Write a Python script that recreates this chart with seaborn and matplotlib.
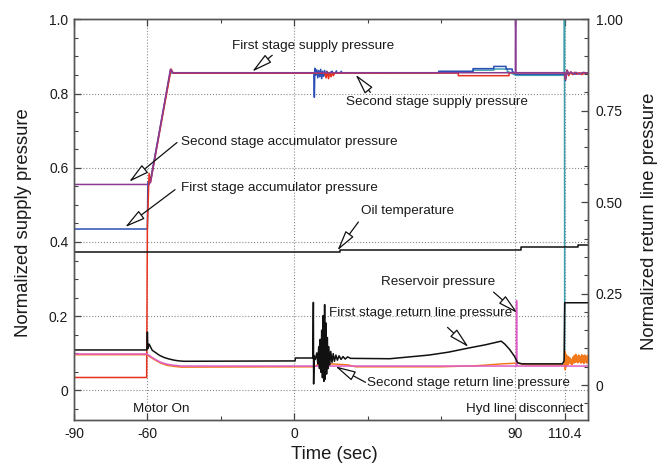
import matplotlib
matplotlib.use("Agg")
import matplotlib.pyplot as plt
import seaborn as sns
import pandas as pd
from matplotlib.ticker import FixedLocator, MultipleLocator

# ---------------- data (time in s, normalized values) ----------------
# supply side (left axis)
FIRST_STAGE_SUPPLY = [(-90, 0.035), (-60.3, 0.035), (-60.0, 0.44), (-59.3, 0.585), (-58.7, 0.56),
                      (-58.2, 0.58), (-50.3, 0.866), (-49.5, 0.855), (12.5, 0.855), (13.0, 0.842),
                      (13.5, 0.858), (14.0, 0.84), (14.5, 0.856), (15.0, 0.845), (15.5, 0.855),
                      (16.0, 0.848), (16.5, 0.855), (67.0, 0.855), (67.0, 0.848), (87.7, 0.848),
                      (87.7, 0.856), (110.4, 0.856), (110.8, 0.838), (111.4, 0.863), (112.1, 0.848),
                      (112.8, 0.858), (113.6, 0.851), (114.5, 0.857), (115.5, 0.852), (116.5, 0.856),
                      (117.5, 0.851), (118.5, 0.856), (119.5, 0.853), (120, 0.855)]
SECOND_STAGE_SUPPLY = [(-90, 0.435), (-60, 0.435), (-59.8, 0.56), (-58.5, 0.575), (-50.5, 0.863),
                       (-49.5, 0.855), (8.0, 0.855), (8.2, 0.79), (8.4, 0.868), (8.8, 0.85),
                       (9.2, 0.864), (9.6, 0.842), (10.0, 0.862), (10.4, 0.845), (10.8, 0.865),
                       (11.2, 0.84), (11.6, 0.86), (12.0, 0.846), (12.4, 0.862), (12.8, 0.848),
                       (13.3, 0.86), (13.8, 0.85), (14.5, 0.856), (15.5, 0.86), (15.7, 0.855),
                       (17.0, 0.855), (17.2, 0.861), (17.4, 0.855), (19.0, 0.855), (19.2, 0.86),
                       (19.4, 0.855), (59.0, 0.856), (59.0, 0.860), (73.0, 0.860), (73.0, 0.867),
                       (81.5, 0.867), (81.5, 0.873), (86.5, 0.873), (86.5, 0.866), (89.0, 0.866),
                       (89.0, 0.860), (90.5, 0.852), (110.4, 0.852), (110.8, 0.835), (111.3, 0.862),
                       (112.0, 0.85), (113.0, 0.857), (114.0, 0.852), (120, 0.855)]
AUX_SUPPLY = [(-50.5, 0.855), (59.0, 0.855), (59.0, 0.858), (73.0, 0.858), (73.0, 0.863),
              (81.5, 0.863), (81.5, 0.866), (87.0, 0.866), (87.0, 0.86), (90.5, 0.849),
              (110.3, 0.849), (110.35, 1.12), (110.45, 0.08)]
SECOND_STAGE_ACCUM = [(-90, 0.555), (-59.3, 0.555), (-58.6, 0.565), (-50.6, 0.865), (-49.5, 0.856),
                      (90.3, 0.856), (90.4, 1.15), (90.5, 0.856), (110.4, 0.856), (110.9, 0.84),
                      (111.5, 0.862), (112.2, 0.852), (113.0, 0.858), (114.0, 0.853), (115.0, 0.857),
                      (116.5, 0.853), (118.0, 0.857), (120, 0.855)]
OIL_TEMPERATURE = [(-90, 0.373), (18.8, 0.373), (18.8, 0.379), (92.5, 0.379), (92.5, 0.386),
                   (115.8, 0.386), (115.8, 0.392), (120, 0.392)]

# return side (right axis)
FIRST_STAGE_RETURN = [(-90, 0.096), (-60.2, 0.096), (-60.0, 0.145), (-59.8, 0.10), (-59.3, 0.112),
                      (-58.0, 0.095), (-56.5, 0.088), (-55.0, 0.081), (-53.0, 0.075), (-51.0, 0.071),
                      (-49.0, 0.068), (-47.0, 0.066), (-45.0, 0.065), (0.3, 0.066), (0.5, 0.074),
                      (7.6, 0.074), (7.8, 0.226), (7.9, 0.003), (8.1, 0.08), (8.6, 0.07),
                      (9.2, 0.088), (9.6, 0.058), (10.0, 0.105), (10.3, 0.045), (10.6, 0.125),
                      (10.9, 0.035), (11.2, 0.15), (11.5, 0.02), (11.8, 0.19), (12.1, 0.01),
                      (12.4, 0.22), (12.6, 0.016), (12.9, 0.17), (13.2, 0.03), (13.5, 0.13),
                      (13.8, 0.045), (14.1, 0.105), (14.5, 0.055), (14.9, 0.092), (15.4, 0.062),
                      (15.9, 0.086), (16.4, 0.065), (17.0, 0.082), (17.6, 0.068), (18.3, 0.08),
                      (19.1, 0.07), (19.9, 0.078), (20.8, 0.071), (21.8, 0.077), (23.0, 0.073),
                      (39.0, 0.072), (47.0, 0.077), (55.0, 0.082), (63.0, 0.09), (71.0, 0.101),
                      (78.0, 0.11), (84.5, 0.12), (86.0, 0.112), (88.0, 0.097), (90.0, 0.078),
                      (91.2, 0.061), (93.0, 0.058), (109.5, 0.058), (110.2, 0.066), (110.45, 0.225),
                      (120, 0.225)]
RESERVOIR = [(-90, 0.085), (-60.2, 0.085), (-59.5, 0.082), (-57.0, 0.071), (-54.5, 0.062),
             (-52.0, 0.057), (-49.0, 0.054), (-46.0, 0.052), (90.7, 0.052), (90.8, 0.231),
             (90.9, 0.052), (120, 0.052)]
SECOND_STAGE_RETURN = [(-90, 0.083), (-60.2, 0.083), (-59.6, 0.08), (-57.0, 0.069), (-54.5, 0.06),
                       (-52.0, 0.054), (-49.0, 0.051), (-46.0, 0.049), (8.0, 0.05), (10.0, 0.057),
                       (15.0, 0.058), (22.0, 0.055), (25.0, 0.05), (60.0, 0.05), (75.0, 0.053),
                       (85.0, 0.058), (91.0, 0.06), (95.0, 0.055), (110.3, 0.055), (110.5, 0.093),
                       (110.7, 0.042), (110.9, 0.085), (111.1, 0.05), (111.4, 0.08), (111.7, 0.055),
                       (112.0, 0.078), (112.3, 0.06), (112.6, 0.074), (112.9, 0.058), (113.2, 0.07),
                       (113.5, 0.056), (113.8, 0.076), (114.1, 0.06), (114.4, 0.081), (114.7, 0.062),
                       (115.0, 0.084), (115.3, 0.063), (115.6, 0.079), (115.9, 0.061), (116.2, 0.082),
                       (116.5, 0.064), (116.8, 0.078), (117.1, 0.06), (117.4, 0.083), (117.7, 0.062),
                       (118.0, 0.08), (118.3, 0.059), (118.6, 0.082), (118.9, 0.063), (119.2, 0.079),
                       (119.5, 0.06), (119.8, 0.081), (120.0, 0.065)]

X_TICKS = [-90, -60, 0, 90, 110.4]
X_TICK_LABELS = ["-90", "-60", "0", "90", "110.4"]
LEFT_TICKS = [0, 0.2, 0.4, 0.6, 0.8, 1.0]
LEFT_TICK_LABELS = ["0", "0.2", "0.4", "0.6", "0.8", "1.0"]
RIGHT_TICKS = [0, 0.25, 0.5, 0.75, 1.0]
RIGHT_TICK_LABELS = ["0", "0.25", "0.50", "0.75", "1.00"]

# annotations: text, text anchor (t, y), arrow tail, arrow tip (left-axis coords)
ANNOTATIONS = [
    ("First stage supply pressure", (-25.4, 0.927), (-9.0, 0.903), (-17.2, 0.859)),
    ("Second stage supply pressure", (21.0, 0.778), (31.1, 0.803), (25.0, 0.851)),
    ("Second stage accumulator pressure", (-46.2, 0.670), (-47.9, 0.668), (-67.5, 0.562)),
    ("First stage accumulator pressure", (-46.2, 0.546), (-48.7, 0.541), (-69.1, 0.440)),
    ("Oil temperature", (27.4, 0.484), (26.2, 0.454), (17.6, 0.377)),
    ("Reservoir pressure", (35.6, 0.292), (81.4, 0.265), (91.3, 0.208)),
    ("First stage return line pressure", (14.3, 0.208), (62.6, 0.170), (71.2, 0.117)),
    ("Second stage return line pressure", (29.5, 0.019), (29.1, 0.022), (16.8, 0.065)),
]
EVENT_LABELS = [("Motor On", (-65.9, -0.051)), ("Hyd line disconnect", (70.0, -0.051))]

# ---------------- style ----------------
sns.set_style("ticks")
plt.rcParams["font.family"] = ["Liberation Sans", "DejaVu Sans"]
TXT = "#1a1a1a"
ANN_SIZE = 9.7

fig = plt.figure(figsize=(6.66, 4.70), dpi=100)
ax = fig.add_axes([0.111, 0.106, 0.772, 0.853])
ax2 = ax.twinx()


def draw(a, pts, color, lw=1.1, z=2):
    df = pd.DataFrame(pts, columns=["t", "v"])
    sns.lineplot(data=df, x="t", y="v", ax=a, color=color, lw=lw,
                 estimator=None, sort=False, zorder=z)


draw(ax, AUX_SUPPLY, "#3d9fad")
draw(ax, SECOND_STAGE_SUPPLY, "#2b4fb5")
draw(ax, FIRST_STAGE_SUPPLY, "#e8321f")
draw(ax, SECOND_STAGE_ACCUM, "#8a3b92")
draw(ax, OIL_TEMPERATURE, "#111111")

draw(ax2, SECOND_STAGE_RETURN, "#f27a1c")
draw(ax2, RESERVOIR, "#e05cc8")
draw(ax2, FIRST_STAGE_RETURN, "#111111")

ax.set_xlim(-90, 120)
ax.set_ylim(-0.08, 1.0)
ax2.set_ylim(-0.096, 1.0)

ax.set_xticks(X_TICKS)
ax.set_xticklabels(X_TICK_LABELS)
ax.xaxis.set_minor_locator(FixedLocator([-30, 30, 60]))
ax.set_yticks(LEFT_TICKS)
ax.set_yticklabels(LEFT_TICK_LABELS)
ax.yaxis.set_minor_locator(MultipleLocator(0.05))
ax2.set_yticks(RIGHT_TICKS)
ax2.set_yticklabels(RIGHT_TICK_LABELS)
ax2.yaxis.set_minor_locator(MultipleLocator(0.05))

ax.tick_params(which="both", direction="in", top=True, right=False, colors="#444444",
               labelcolor=TXT, labelsize=10)
ax.tick_params(which="major", length=5, width=0.9)
ax.tick_params(which="minor", length=3, width=0.8)
ax.tick_params(axis="x", pad=5)
ax.tick_params(axis="y", pad=4)
ax2.tick_params(which="both", direction="in", colors="#444444", labelcolor=TXT, labelsize=10, pad=5.5)
ax2.tick_params(which="major", length=5, width=0.9)
ax2.tick_params(which="minor", length=3, width=0.8)

ax.grid(True, which="major", linestyle=":", color="#8a8a8a", lw=0.8)
ax2.grid(False)
for a in (ax, ax2):
    for s in a.spines.values():
        s.set_visible(True)
        s.set_color("#555555")
        s.set_linewidth(1.0)

ax.set_xlabel("Time (sec)", fontsize=13.3, color=TXT)
ax.xaxis.set_label_coords(0.507, -0.065)
ax.set_ylabel("Normalized supply pressure", fontsize=13.3, color=TXT)
ax.yaxis.set_label_coords(-0.082, 0.494)
ax2.set_ylabel("Normalized return line pressure", fontsize=13.3, color=TXT, rotation=90)
ax2.yaxis.set_label_coords(1.102, 0.496)

for text, pos, tail, tip in ANNOTATIONS:
    ax.text(pos[0], pos[1], text, fontsize=ANN_SIZE, color=TXT, ha="left", va="center", zorder=6)
    ax.annotate("", xy=tip, xytext=tail,
                arrowprops=dict(arrowstyle="-|>,head_length=0.9,head_width=0.22", fc="white",
                                ec="#111111", lw=0.9, mutation_scale=14, shrinkA=0, shrinkB=0),
                zorder=6)
for text, pos in EVENT_LABELS:
    ax.text(pos[0], pos[1], text, fontsize=ANN_SIZE, color=TXT, ha="left", va="center")

fig.savefig("out.png", dpi=100)
